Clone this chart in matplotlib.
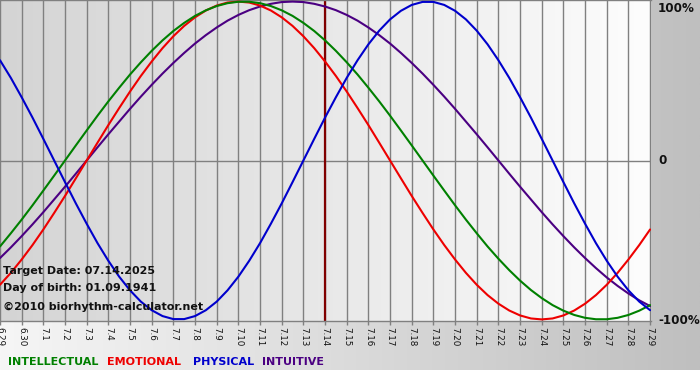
import matplotlib
matplotlib.use('Agg')
import matplotlib.pyplot as plt
import numpy as np
from matplotlib.colors import LinearSegmentedColormap

# Day offsets relative to target date (7.14), tick per day
days = list(range(-15, 16))
tick_labels = ['6.29', '6.30'] + ['7.%d' % i for i in range(1, 30)]
# curve samples every half day
half_days = [d / 2 for d in range(-30, 31)]

physical = [0.631, 0.520, 0.398, 0.270, 0.136, 0.000, -0.136, -0.270, -0.398, -0.520,
            -0.631, -0.731, -0.817, -0.888, -0.942, -0.979, -0.998, -0.998, -0.979, -0.942,
            -0.888, -0.817, -0.731, -0.631, -0.520, -0.398, -0.270, -0.136, 0.000, 0.136,
            0.270, 0.398, 0.520, 0.631, 0.731, 0.817, 0.888, 0.942, 0.979, 0.998,
            0.998, 0.979, 0.942, 0.888, 0.817, 0.731, 0.631, 0.520, 0.398, 0.270,
            0.136, 0.000, -0.136, -0.270, -0.398, -0.520, -0.631, -0.731, -0.817, -0.888, -0.942]
emotional = [-0.782, -0.707, -0.623, -0.532, -0.434, -0.330, -0.223, -0.112, 0.000, 0.112,
             0.223, 0.330, 0.434, 0.532, 0.623, 0.707, 0.782, 0.847, 0.901, 0.944,
             0.975, 0.994, 1.000, 0.994, 0.975, 0.944, 0.901, 0.847, 0.782, 0.707,
             0.623, 0.532, 0.434, 0.330, 0.223, 0.112, 0.000, -0.112, -0.223, -0.330,
             -0.434, -0.532, -0.623, -0.707, -0.782, -0.847, -0.901, -0.944, -0.975, -0.994,
             -1.000, -0.994, -0.975, -0.944, -0.901, -0.847, -0.782, -0.707, -0.623, -0.532, -0.434]
intellectual = [-0.541, -0.458, -0.372, -0.282, -0.189, -0.095, 0.000, 0.095, 0.189, 0.282,
                0.372, 0.458, 0.541, 0.618, 0.690, 0.756, 0.815, 0.866, 0.910, 0.945,
                0.972, 0.990, 0.999, 0.999, 0.990, 0.972, 0.945, 0.910, 0.866, 0.815,
                0.756, 0.690, 0.618, 0.541, 0.458, 0.372, 0.282, 0.189, 0.095, 0.000,
                -0.095, -0.189, -0.282, -0.372, -0.458, -0.541, -0.618, -0.690, -0.756, -0.815,
                -0.866, -0.910, -0.945, -0.972, -0.990, -0.999, -0.999, -0.990, -0.972, -0.945, -0.910]
intuitive = [-0.614, -0.547, -0.476, -0.402, -0.325, -0.245, -0.165, -0.083, 0.000, 0.083,
             0.165, 0.245, 0.325, 0.402, 0.476, 0.547, 0.614, 0.677, 0.736, 0.789,
             0.837, 0.880, 0.916, 0.946, 0.969, 0.986, 0.997, 1.000, 0.997, 0.986,
             0.969, 0.946, 0.916, 0.880, 0.837, 0.789, 0.736, 0.677, 0.614, 0.547,
             0.476, 0.402, 0.325, 0.245, 0.165, 0.083, 0.000, -0.083, -0.165, -0.245,
             -0.325, -0.402, -0.476, -0.547, -0.614, -0.677, -0.736, -0.789, -0.837, -0.880, -0.916]

target_day = 0
info_lines = ['Target Date: 07.14.2025', 'Day of birth: 01.09.1941', '\u00a92010 biorhythm-calculator.net']
legend_names = ['INTELLECTUAL', 'EMOTIONAL', 'PHYSICAL', 'INTUITIVE']
legend_colors = ['#008000', '#ee0000', '#0000cc', '#4b0082']

W, H = 700, 380
fig = plt.figure(figsize=(7, 3.8), dpi=100)
fig.patch.set_facecolor('white')

# background gradient
bg = fig.add_axes([0, 0, 1, 1])
bg.set_xlim(0, W)
bg.set_ylim(H, 0)
bg.axis('off')
grad = np.linspace(0, 1, 256)[None, :]
cm_bg = LinearSegmentedColormap.from_list('bg', ['#f6f6f6', '#bfbfbf'])
bg.imshow(grad, cmap=cm_bg, extent=[0, W, 370, 0], aspect='auto', interpolation='bilinear')

px_per_day = 21.67
plot_w = 651
plot_h = 321
ax = fig.add_axes([0, 1 - plot_h / H, plot_w / W, plot_h / H])
x0 = days[0]
x1 = days[0] + plot_w / px_per_day
ylo, yhi = -1.01, 1.01
cm_plot = LinearSegmentedColormap.from_list('pl', ['#d4d4d4', '#fdfdfd'])
ax.imshow(grad, cmap=cm_plot, extent=[x0, x1, ylo, yhi], aspect='auto',
          interpolation='bilinear', zorder=0)
ax.set_xlim(x0, x1)
ax.set_ylim(ylo, yhi)

for d in days:
    ax.axvline(d, color='#808080', lw=1.0, zorder=1)
ax.axhline(0, color='#808080', lw=1.0, zorder=1)
ax.axvline(target_day, color='#800000', lw=1.6, zorder=2)

lw = 1.5
kw = dict(lw=lw, solid_joinstyle='round', solid_capstyle='round')
ax.plot(half_days, intuitive, color=legend_colors[3], zorder=3, **kw)
ax.plot(half_days, emotional, color=legend_colors[1], zorder=4, **kw)
ax.plot(half_days, intellectual, color=legend_colors[0], zorder=5, **kw)
ax.plot(half_days, physical, color=legend_colors[2], zorder=6, **kw)

ax.set_yticks([])
ax.set_xticks(days)
ax.set_xticklabels(tick_labels, rotation=270, fontsize=6.3, color='#111111',
                   family='DejaVu Sans')
ax.tick_params(axis='x', length=3, width=1, color='#808080', pad=1)
for s in ['left', 'right']:
    ax.spines[s].set_visible(False)
for s in ['top', 'bottom']:
    ax.spines[s].set_color('#808080')
    ax.spines[s].set_linewidth(1.0)

# right labels
for txt, ypx in [('100%', 8), ('0', 161), ('-100%', 321)]:
    fig.text(658 / W, 1 - ypx / H, txt, fontsize=8.6, fontweight='bold',
             color='#111111', ha='left', va='center', family='DejaVu Sans')

# info text
for txt, ypx in zip(info_lines, [271, 288, 307]):
    fig.text(3 / W, 1 - ypx / H, txt, fontsize=8.0, fontweight='bold',
             color='#111111', ha='left', va='center', family='DejaVu Sans')

# legend
for name, col, xpx in zip(legend_names, legend_colors, [8, 107, 193, 262]):
    fig.text(xpx / W, 1 - 362 / H, name, fontsize=8.0, fontweight='bold',
             color=col, ha='left', va='center', family='DejaVu Sans')

fig.savefig('out.png', dpi=100)
